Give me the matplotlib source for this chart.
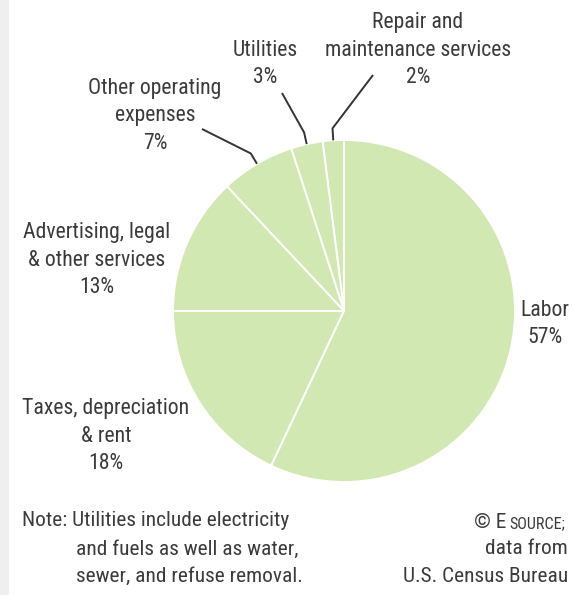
import numpy as np
import matplotlib
matplotlib.use("Agg")
import matplotlib.pyplot as plt

W, H = 573, 595

# slices, counterclockwise from 12 o'clock
labels = ["Repair and\nmaintenance services", "Utilities", "Other operating\nexpenses",
          "Advertising, legal\n& other services", "Taxes, depreciation\n& rent", "Labor"]
shares = [2, 3, 7, 13, 18, 57]

plt.rcParams["font.family"] = ["Roboto Condensed", "DejaVu Sans"]
TXT = "#3b3b3b"
GREEN = "#d2e8b3"

fig = plt.figure(figsize=(W / 100, H / 100), dpi=100)
ax = fig.add_axes([0, 0, 1, 1])

# grey strip on the left edge
ax.axvspan(0, 9, color="#efefef", lw=0)

cx, cy, r = 344, H - 311, 171
wedges, _ = ax.pie(shares, colors=[GREEN] * len(shares), startangle=90, counterclock=True,
                   center=(cx, cy), radius=r, frame=True,
                   wedgeprops=dict(edgecolor="white", linewidth=1.4))
ax.set_xlim(0, W)
ax.set_ylim(0, H)
ax.set_aspect("equal")
ax.axis("off")

fs = 15.7

def label(x, y, s):
    ax.text(x, H - y, s, ha="center", va="center", fontsize=fs, color=TXT, linespacing=1.42)

label(418, 50, labels[0] + "\n" + f"{shares[0]}%")
label(265, 64, labels[1] + "\n" + f"{shares[1]}%")
label(155, 116, labels[2] + "\n" + f"{shares[2]}%")
label(97, 260, labels[3] + "\n" + f"{shares[3]}%")
label(106, 436, labels[4] + "\n" + f"{shares[4]}%")
label(545, 324, labels[5] + "\n" + f"{shares[5]}%")

# leader lines from the small wedges to their labels
ends = {0: (373, 75), 1: (282, 93), 2: (202, 129)}
for i, (tx, ty) in ends.items():
    w = wedges[i]
    mid = np.deg2rad((w.theta1 + w.theta2) / 2)
    x0, y0 = cx + r * np.cos(mid), cy + r * np.sin(mid)
    x1, y1 = cx + (r + 12) * np.cos(mid), cy + (r + 12) * np.sin(mid)
    ax.plot([x0, x1, tx], [y0, y1, H - ty], color="#333333", lw=1.4, solid_capstyle="butt")

# note
nfs = 15.4
ax.text(22, H - 521, "Note: Utilities include electricity", ha="left", va="center", fontsize=nfs, color=TXT)
ax.text(76, H - 549, "and fuels as well as water,", ha="left", va="center", fontsize=nfs, color=TXT)
ax.text(76, H - 576, "sewer, and refuse removal.", ha="left", va="center", fontsize=nfs, color=TXT)

# source
src = ax.text(565, H - 528, "SOURCE;", ha="right", va="baseline", fontsize=nfs - 3.8, color=TXT)
fig.canvas.draw()
bb = src.get_window_extent(fig.canvas.get_renderer())
ax.text(bb.x0 - 3, H - 528, "\u00a9 E", ha="right", va="baseline", fontsize=nfs, color=TXT)
ax.text(568, H - 549, "data from", ha="right", va="center", fontsize=nfs, color=TXT)
ax.text(568, H - 576, "U.S. Census Bureau", ha="right", va="center", fontsize=nfs, color=TXT)

fig.savefig("out.png", dpi=100)
